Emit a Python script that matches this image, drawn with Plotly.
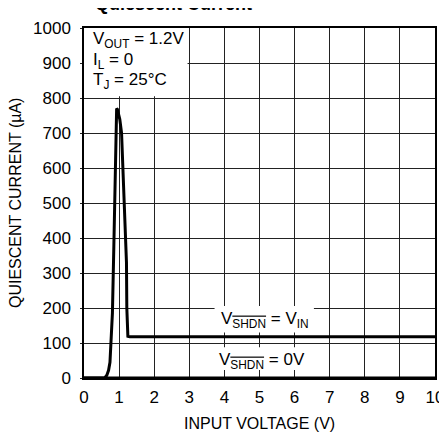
import plotly.graph_objects as go

# Data
vin_on = [0.0, 0.55, 0.59, 0.65, 0.70, 0.74, 0.78, 0.81, 0.85, 0.88, 0.90, 0.92, 0.93, 0.95,
          0.98, 1.02, 1.07, 1.11, 1.16, 1.20, 1.21, 1.22, 1.23, 1.25, 1.30, 2.0, 4.0, 6.0, 8.0, 10.0]
iq_on = [0, 0, 0, 8, 22, 45, 110, 186, 376, 567, 700, 755, 770, 768,
         755, 739, 700, 600, 490, 395, 330, 200, 135, 119, 118, 118, 118, 118, 118, 118]
vin_off = [0.0, 10.0]
iq_off = [0, 0]

x_ticks = list(range(0, 11))
y_ticks = list(range(0, 1001, 100))

FAM = "Liberation Sans, Arial, sans-serif"

fig = go.Figure()
fig.add_trace(go.Scatter(x=vin_off, y=iq_off, mode="lines",
                         line=dict(color="black", width=3), cliponaxis=False,
                         showlegend=False, hoverinfo="skip"))
fig.add_trace(go.Scatter(x=vin_on, y=iq_on, mode="lines",
                         line=dict(color="black", width=3),
                         showlegend=False, hoverinfo="skip"))

# white boxes hiding the grid behind the labels
for (x0, x1, y0, y1) in [(0, 2.95, 805, 1000), (3.72, 6.55, 130, 206), (3.72, 6.35, 23, 88)]:
    fig.add_shape(type="rect", xref="x", yref="y", x0=x0, x1=x1, y0=y0, y1=y1,
                  fillcolor="white", line=dict(width=0), layer="between")

txt_font = dict(family=FAM, size=17, color="black")
ann = [
    dict(x=0.2, y=965, text="V<sub>OUT</sub> = 1.2V", xanchor="left", yanchor="middle"),
    dict(x=0.2, y=905, text="I<sub>L</sub> = 0", xanchor="left", yanchor="middle"),
    dict(x=0.2, y=848, text="T<sub>J</sub> = 25°C", xanchor="left", yanchor="middle"),
    dict(x=5.16, y=166,
         text='V<sub><span style="text-decoration:overline">SHDN</span></sub> = V<sub>IN</sub>',
         xanchor="center", yanchor="middle"),
    dict(x=5.07, y=50,
         text='V<sub><span style="text-decoration:overline">SHDN</span></sub> = 0V',
         xanchor="center", yanchor="middle"),
]
for a in ann:
    fig.add_annotation(xref="x", yref="y", showarrow=False, font=txt_font, **a)

fig.add_annotation(xref="paper", yref="paper", x=-0.1966, y=0.5, text="QUIESCENT CURRENT (µA)",
                   textangle=-90, showarrow=False, xanchor="center", yanchor="middle",
                   font=dict(family=FAM, size=16, color="black"))
fig.add_annotation(xref="paper", yref="paper", x=0.5, y=-0.131, text="INPUT VOLTAGE (V)",
                   showarrow=False, xanchor="center", yanchor="middle",
                   font=dict(family=FAM, size=16, color="black"))
fig.add_annotation(xref="paper", yref="paper", x=0.2536, y=1.034, text="<b>Quiescent Current</b>",
                   showarrow=False, xanchor="center", yanchor="bottom",
                   font=dict(family=FAM, size=18, color="black"))

fig.update_xaxes(range=[0, 10], tickvals=x_ticks, ticktext=[str(v) for v in x_ticks],
                 showgrid=True, gridcolor="#222", gridwidth=1, zeroline=False,
                 showline=True, linecolor="black", linewidth=1.5, mirror=True,
                 ticks="", ticklabelstandoff=3,
                 tickfont=dict(family=FAM, size=17, color="black"))
fig.update_yaxes(range=[0, 1000], tickvals=y_ticks, ticktext=[str(v) for v in y_ticks],
                 showgrid=True, gridcolor="#222", gridwidth=1, zeroline=False,
                 showline=True, linecolor="black", linewidth=1.5, mirror=True,
                 ticks="outside", ticklen=2, tickcolor="#222", ticklabelstandoff=6,
                 tickfont=dict(family=FAM, size=17, color="black"))

# the page body adds an 8px offset, so margins compensate for it
fig.update_layout(width=447, height=435, margin=dict(l=76, r=20, t=20, b=65),
                  paper_bgcolor="white", plot_bgcolor="white", showlegend=False)

fig.write_html("out.html")
